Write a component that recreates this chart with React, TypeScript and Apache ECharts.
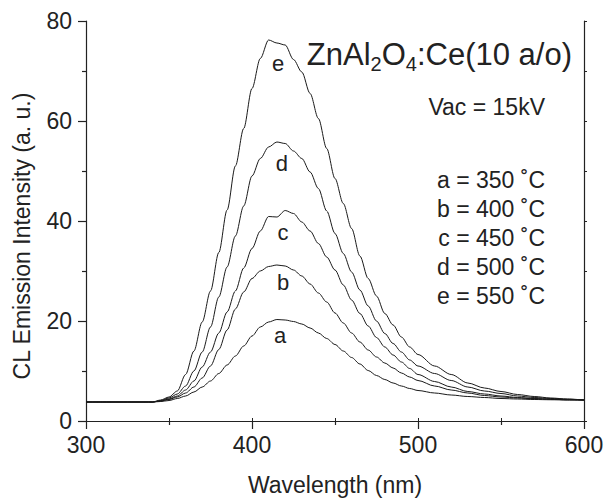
import React, { useEffect, useRef } from "react";
import * as echarts from "echarts";

// Wavelength grid (nm)
const wavelengths = [
  300, 310, 320, 330, 340,
  345, 350, 355, 360, 365, 370, 375, 380, 385, 390, 395, 400, 405, 410, 415,
  420, 425, 430, 435, 440, 445, 450, 455, 460, 465, 470, 475, 480, 485, 490, 495, 500,
  510, 520, 530, 540, 550, 560, 570, 580, 590, 600,
];

// CL emission intensity (a. u.)
const curveA = [
  3.8, 3.8, 3.8, 3.8, 3.8,
  3.9, 4.1, 4.5, 5.0, 5.8, 6.8, 8.0, 9.5, 11.2, 13.0, 15.0, 17.0, 18.8, 19.8, 20.3,
  20.2, 19.9, 19.4, 18.6, 17.6, 16.5, 15.3, 14.0, 12.7, 11.4, 10.1, 9.1, 8.3, 7.6, 7.0, 6.5, 6.1,
  5.6, 5.2, 4.9, 4.7, 4.5, 4.4, 4.3, 4.25, 4.2, 4.2,
];
const curveB = [
  3.8, 3.8, 3.8, 3.8, 3.8,
  4.0, 4.3, 4.8, 5.6, 6.8, 8.6, 11.0, 14.3, 18.2, 22.4, 25.8, 28.5, 30.0, 30.9, 31.2,
  31.0, 30.2, 29.0, 27.4, 25.6, 23.8, 21.6, 19.6, 17.6, 15.8, 14.2, 12.8, 11.6, 10.6, 9.6, 8.8, 8.1,
  7.0, 6.2, 5.6, 5.1, 4.8, 4.6, 4.45, 4.35, 4.25, 4.2,
];
const curveC = [
  3.8, 3.8, 3.8, 3.8, 3.8,
  4.0, 4.4, 5.0, 6.2, 8.0, 10.8, 13.8, 17.6, 21.8, 26.0, 30.6, 34.5, 38.0, 40.9, 40.8,
  42.1, 41.5, 39.8, 38.0, 35.5, 32.8, 30.2, 27.2, 24.2, 21.5, 19.0, 16.7, 14.8, 13.2, 11.8, 10.5, 9.3,
  7.9, 6.8, 5.9, 5.4, 5.0, 4.7, 4.5, 4.35, 4.25, 4.2,
];
const curveD = [
  3.8, 3.8, 3.8, 3.8, 3.8,
  4.1, 4.6, 5.4, 7.0, 10.0, 13.8, 18.8, 24.8, 30.8, 37.0, 43.0, 49.0, 52.5, 54.8, 55.8,
  55.5, 54.0, 52.5, 49.8, 46.5, 42.0, 37.5, 33.5, 29.8, 26.2, 23.0, 20.0, 17.5, 15.5, 13.8, 12.2, 11.0,
  9.5, 8.1, 6.8, 6.0, 5.5, 5.0, 4.7, 4.5, 4.35, 4.2,
];
const curveE = [
  3.8, 3.8, 3.8, 3.8, 3.8,
  4.2, 4.8, 6.0, 9.3, 14.0, 19.8, 26.0, 33.7, 42.2, 51.0, 58.5, 66.5, 72.5, 76.2, 75.6,
  75.2, 72.3, 69.8, 65.5, 60.5, 54.5, 48.5, 43.5, 38.5, 33.0, 28.5, 25.0, 21.5, 19.2, 16.8, 14.8, 13.3,
  11.0, 9.3, 7.6, 6.6, 5.9, 5.3, 4.9, 4.6, 4.4, 4.2,
];

const curveNames = ["a", "b", "c", "d", "e"];
const curves = [curveA, curveB, curveC, curveD, curveE];
// label anchor (wavelength, intensity) for each curve letter
const curveLabelAt: [number, number][] = [
  [417, 17.2],
  [418.7, 27.8],
  [418.7, 37.8],
  [418, 51.6],
  [415.7, 71.6],
];

const legendLines = [
  "a = 350 ˚C",
  "b = 400 ˚C",
  "c = 450 ˚C",
  "d = 500 ˚C",
  "e = 550 ˚C",
];
const voltageText = "Vac = 15kV";
const xTitle = "Wavelength (nm)";
const yTitle = "CL Emission Intensity (a. u.)";

const FONT = "'Liberation Sans', Arial, Helvetica, sans-serif";
const INK = "#222";

export default function App() {
  const ref = useRef<HTMLDivElement>(null);

  useEffect(() => {
    if (!ref.current) return;
    const chart = echarts.init(ref.current, null, { renderer: "svg" });

    const axisLine = { show: true, lineStyle: { color: INK, width: 1.2 } };

    const lineSeries = curves.map((c, i) => ({
      name: curveNames[i],
      type: "line",
      xAxisIndex: 0,
      yAxisIndex: 0,
      data: wavelengths.map((w, j) => [w, c[j]]),
      showSymbol: false,
      symbol: "none",
      smooth: 0.3,
      smoothMonotone: "x",
      lineStyle: { color: "#1a1a1a", width: 1 },
      silent: true,
      z: 3,
    }));

    const labelSeries = {
      type: "scatter",
      xAxisIndex: 0,
      yAxisIndex: 0,
      symbolSize: 1,
      itemStyle: { color: "#ffffff", opacity: 1 },
      silent: true,
      data: curveLabelAt.map((p, i) => ({ value: [p[0], p[1]], name: curveNames[i] })),
      label: {
        show: true,
        position: "inside",
        formatter: (p: any) => p.name,
        fontSize: 22,
        fontFamily: FONT,
        color: INK,
        opacity: 1,
        textBorderWidth: 0,
        textBorderColor: "transparent",
      },
      z: 4,
    };

    const legendGraphics = legendLines.map((t, i) => ({
      type: "text",
      x: 545,
      y: 180 + i * 29,
      style: {
        text: t,
        fontSize: 23,
        fontFamily: FONT,
        fill: INK,
        align: "right",
        verticalAlign: "middle",
      },
    }));

    chart.setOption({
      animation: false,
      backgroundColor: "#fff",
      grid: {
        left: 86,
        right: 22,
        top: 21,
        bottom: 77,
        containLabel: false,
        outerBoundsMode: "none",
      },
      xAxis: [
        {
          type: "value",
          position: "bottom",
          min: 300,
          max: 600,
          interval: 100,
          axisLine,
          axisTick: { show: true, inside: false, length: 8, lineStyle: { color: INK, width: 1.2 } },
          minorTick: { show: true, splitNumber: 2, length: 4, lineStyle: { color: INK, width: 1.2 } },
          splitLine: { show: false },
          minorSplitLine: { show: false },
          axisLabel: { fontSize: 23, fontFamily: FONT, color: INK, margin: 12 },
          name: xTitle,
          nameLocation: "middle",
          nameGap: 52,
          nameTextStyle: { fontSize: 23, fontFamily: FONT, color: INK },
        },
        {
          type: "value",
          position: "top",
          min: 300,
          max: 600,
          interval: 50,
          axisLine,
          axisTick: { show: true, inside: false, length: 3, lineStyle: { color: INK, width: 1 } },
          axisLabel: { show: false },
          splitLine: { show: false },
        },
      ],
      yAxis: [
        {
          type: "value",
          position: "left",
          min: 0,
          max: 80,
          interval: 20,
          axisLine,
          axisTick: { show: true, inside: false, length: 8, lineStyle: { color: INK, width: 1.2 } },
          minorTick: { show: true, splitNumber: 2, length: 4, lineStyle: { color: INK, width: 1.2 } },
          splitLine: { show: false },
          minorSplitLine: { show: false },
          axisLabel: { fontSize: 23, fontFamily: FONT, color: INK, margin: 14 },
        },
        {
          type: "value",
          position: "right",
          min: 0,
          max: 80,
          interval: 10,
          axisLine,
          axisTick: { show: true, inside: false, length: 3, lineStyle: { color: INK, width: 1 } },
          axisLabel: { show: false },
          splitLine: { show: false },
        },
      ],
      series: [...lineSeries, labelSeries],
      graphic: [
        {
          type: "text",
          x: 22,
          y: 236,
          rotation: Math.PI / 2,
          style: {
            text: yTitle,
            fontSize: 23,
            fontFamily: FONT,
            fill: INK,
            align: "center",
            verticalAlign: "middle",
          },
        },
        {
          type: "text",
          x: 572,
          y: 54,
          style: {
            text: "{m|ZnAl}{s|2}{m|O}{s|4}{m|:Ce(10 a/o)}",
            fill: INK,
            align: "right",
            verticalAlign: "middle",
            rich: {
              m: { fontSize: 31, fontFamily: FONT, fill: INK, lineHeight: 40, verticalAlign: "middle" },
              s: { fontSize: 20, fontFamily: FONT, fill: INK, lineHeight: 20, verticalAlign: "bottom" },
            },
          },
        },
        {
          type: "text",
          x: 545,
          y: 107,
          style: {
            text: voltageText,
            fontSize: 23,
            fontFamily: FONT,
            fill: INK,
            align: "right",
            verticalAlign: "middle",
          },
        },
        ...legendGraphics,
      ],
    });

    return () => chart.dispose();
  }, []);

  return (
    <div
      ref={ref}
      style={{ position: "fixed", left: 0, top: 0, width: 606, height: 498, background: "#fff" }}
    />
  );
}
